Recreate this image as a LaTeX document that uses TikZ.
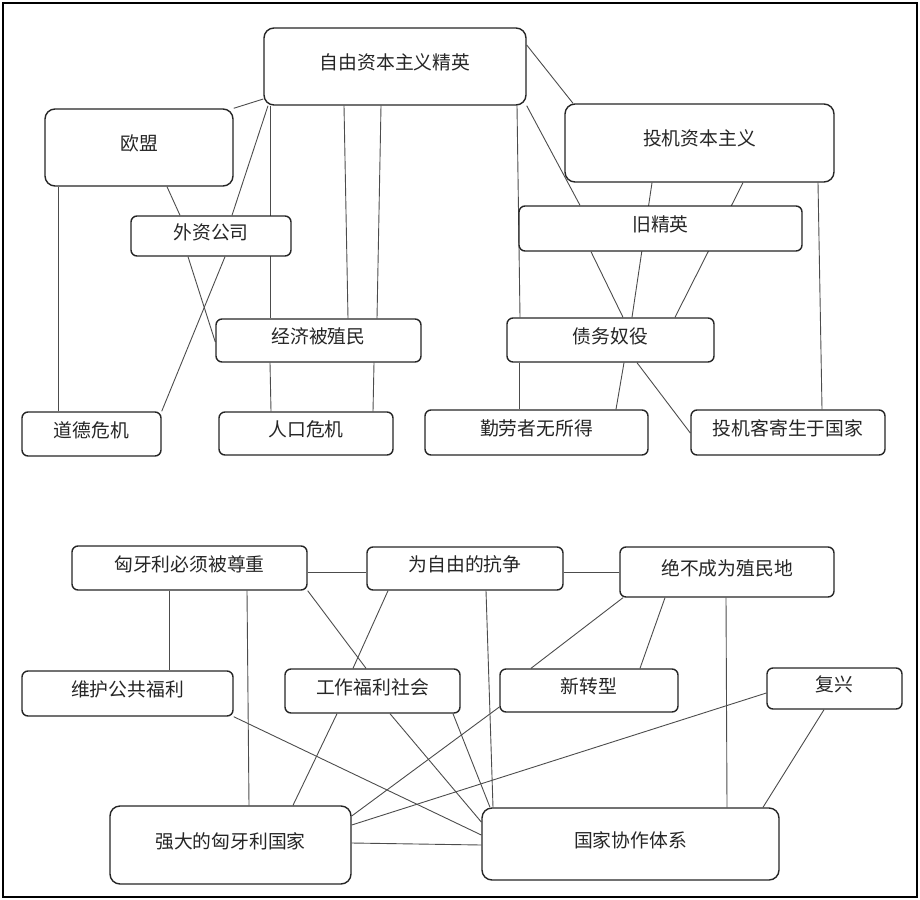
\documentclass[tikz,border=0pt]{standalone}
\usepackage{fontspec}
\newfontfamily\cjk{Noto Sans CJK SC}
\usepackage{tikz}
\usetikzlibrary{backgrounds}

\begin{document}
\begin{tikzpicture}[x=0.5pt,y=-0.5pt,
    concept/.style={draw=black!85, fill=white, rounded corners=3pt, line width=0.7pt,
                    inner sep=0pt, text height=7pt, text depth=4pt, text=black!85,
                    font=\cjk\fontsize{9.4}{11}\selectfont},
    bigconcept/.style={concept, rounded corners=5pt},
    link/.style={draw=black!70, line width=0.45pt}]
    \useasboundingbox (0,0) rectangle (920,899);
    \draw[line width=1pt] (3,3) rectangle (917,897);

    % upper map
    \node[bigconcept, minimum width=131pt, minimum height=38.5pt] (libelite) at (395,66.5) {自由资本主义精英};
    \node[bigconcept, minimum width=94pt, minimum height=38.5pt] (eu) at (139,147.5) {欧盟};
    \node[concept, minimum width=80pt, minimum height=20pt] (foreign) at (211,236) {外资公司};
    \node[concept, minimum width=102.5pt, minimum height=21.5pt] (colon) at (318.5,340.5) {经济被殖民};
    \node[concept, minimum width=69.5pt, minimum height=22pt] (moral) at (91.5,434) {道德危机};
    \node[concept, minimum width=87pt, minimum height=21.5pt] (demog) at (306,433.5) {人口危机};
    \node[bigconcept, minimum width=134.5pt, minimum height=39pt] (specap) at (699.5,143) {投机资本主义};
    \node[concept, minimum width=141.5pt, minimum height=22.5pt] (oldelite) at (660.5,228.5) {旧精英};
    \node[concept, minimum width=103.5pt, minimum height=22pt] (debt) at (610.5,340) {债务奴役};
    \node[concept, minimum width=111.5pt, minimum height=22.5pt] (workers) at (536.5,432.5) {勤劳者无所得};
    \node[concept, minimum width=97pt, minimum height=22.5pt] (parasite) at (788,432.5) {投机客寄生于国家};

    % lower map
    \node[concept, minimum width=117.5pt, minimum height=22pt] (respect) at (189.5,568) {匈牙利必须被尊重};
    \node[concept, minimum width=98pt, minimum height=21.5pt] (freedom) at (465,568.5) {为自由的抗争};
    \node[concept, minimum width=107pt, minimum height=25pt] (nocolony) at (727,572) {绝不成为殖民地};
    \node[concept, minimum width=105.5pt, minimum height=22.5pt] (welfare) at (127.5,693.5) {维护公共福利};
    \node[concept, minimum width=87.5pt, minimum height=22pt] (workfare) at (372.5,691) {工作福利社会};
    \node[concept, minimum width=89pt, minimum height=21.5pt] (newturn) at (589,690.5) {新转型};
    \node[concept, minimum width=67.5pt, minimum height=20.5pt] (revival) at (834.5,688.5) {复兴};
    \node[bigconcept, minimum width=120.5pt, minimum height=39pt] (strong) at (230.5,845) {强大的匈牙利国家};
    \node[bigconcept, minimum width=148.5pt, minimum height=36pt] (natcoop) at (630.5,844) {国家协作体系};

    \begin{scope}[on background layer]
      \draw[link] (libelite.west |- 0,99) -- (eu.north east);
      \draw[link] (libelite.south -| 268,0) -- (foreign.north -| 232,0);
      \draw[link] (foreign.south -| 225,0) -- (moral.north east);
      \draw[link] (eu.south -| 167,0) -- (foreign.north -| 180,0);
      \draw[link] (foreign.south -| 188,0) -- (colon.west |- 0,342);
      \draw[link] (eu.south -| 58,0) -- (moral.north -| 58,0);
      \draw[link] (libelite.south -| 270,0) -- (colon.north -| 270,0);
      \draw[link] (libelite.south -| 344,0) -- (colon.north -| 348,0);
      \draw[link] (libelite.south -| 381,0) -- (colon.north -| 377,0);
      \draw[link] (colon.south -| 270,0) -- (demog.north -| 271,0);
      \draw[link] (colon.south -| 374,0) -- (demog.north -| 373,0);
      \draw[link] (libelite.east |- 0,45) -- (specap.north -| 573,0);
      \draw[link] (libelite.south east) -- (oldelite.north -| 580,0);
      \draw[link] (oldelite.south -| 591,0) -- (debt.north -| 623,0);
      \draw[link] (libelite.south -| 517,0) -- (debt.north -| 520,0);
      \draw[link] (specap.south -| 652,0) -- (debt.north -| 632,0);
      \draw[link] (specap.south -| 743,0) -- (debt.north -| 675,0);
      \draw[link] (specap.south -| 818,0) -- (parasite.north -| 822,0);
      \draw[link] (debt.south -| 519,0) -- (workers.north -| 519,0);
      \draw[link] (debt.south -| 624,0) -- (workers.north -| 616,0);
      \draw[link] (debt.south -| 637,0) -- (parasite.west |- 0,433);

      \draw[link] (respect.east |- 0,572) -- (freedom.west |- 0,572);
      \draw[link] (freedom.east |- 0,572) -- (nocolony.west |- 0,572);
      \draw[link] (respect.south -| 169,0) -- (welfare.north -| 169,0);
      \draw[link] (respect.south -| 247,0) -- (strong.north -| 249,0);
      \draw[link] (respect.south east) -- (workfare.north -| 366,0);
      \draw[link] (freedom.south -| 388,0) -- (workfare.north -| 353,0);
      \draw[link] (freedom.south -| 486,0) -- (natcoop.north -| 493,0);
      \draw[link] (nocolony.south -| 623,0) -- (newturn.north -| 531,0);
      \draw[link] (nocolony.south -| 665,0) -- (newturn.north -| 640,0);
      \draw[link] (nocolony.south -| 726,0) -- (natcoop.north -| 727,0);
      \draw[link] (newturn.west |- 0,707) -- (strong.east |- 0,816);
      \draw[link] (revival.west |- 0,693) -- (strong.east |- 0,825);
      \draw[link] (revival.south -| 824,0) -- (natcoop.north -| 763,0);
      \draw[link] (welfare.south east) -- (natcoop.west |- 0,835);
      \draw[link] (strong.east |- 0,843) -- (natcoop.west |- 0,845);
      \draw[link] (workfare.south -| 337,0) -- (strong.north -| 293,0);
      \draw[link] (workfare.south -| 390,0) -- (natcoop.west |- 0,822);
      \draw[link] (workfare.south -| 453,0) -- (natcoop.north -| 490,0);
    \end{scope}
\end{tikzpicture}
\end{document}
